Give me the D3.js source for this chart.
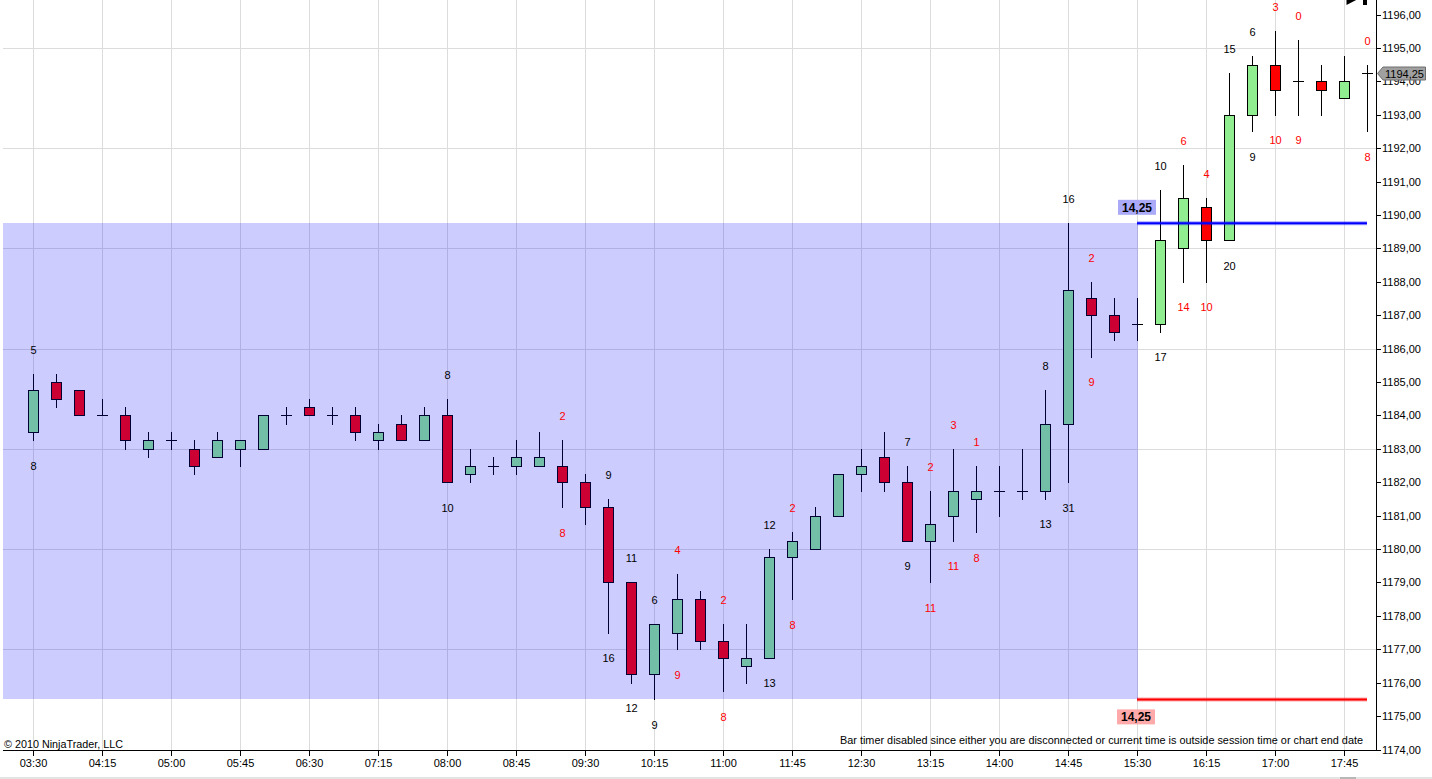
<!DOCTYPE html>
<html>
<head>
<meta charset="utf-8">
<script src="https://cdn.jsdelivr.net/npm/d3@7"></script>
<style>
html,body{margin:0;padding:0;background:#fff;overflow:hidden;}
svg{display:block;font-family:"Liberation Sans",Arial,sans-serif;}
</style>
</head>
<body>
<svg id="chart" width="1432" height="779"></svg>
<script>
// ---------------- DATA ----------------
const barTimes = ["03:30","03:45","04:00","04:15","04:30","04:45","05:00","05:15","05:30","05:45",
  "06:00","06:15","06:30","06:45","07:00","07:15","07:30","07:45","08:00","08:15",
  "08:30","08:45","09:00","09:15","09:30","09:45","10:00","10:15","10:30","10:45",
  "11:00","11:15","11:30","11:45","12:00","12:15","12:30","12:45","13:00","13:15",
  "13:30","13:45","14:00","14:15","14:30","14:45","15:00","15:15","15:30","15:45",
  "16:00","16:15","16:30","16:45","17:00","17:15","17:30","17:45","18:00"];
const opens = [1183.5,1185,1184.75,1184,1184,1183,1183.25,1183,1182.75,1183,
  1183,1184,1184.25,1184,1184,1183.25,1183.75,1183.25,1184,1182.25,
  1182.5,1182.5,1182.5,1182.5,1182,1181.25,1179,1176.25,1177.5,1178.5,
  1177.25,1176.5,1176.75,1179.75,1180,1181,1182.25,1182.75,1182,1180.25,
  1181,1181.5,1181.75,1181.75,1181.75,1183.75,1187.5,1187,1186.75,1186.75,
  1189,1190.25,1189.25,1193,1194.5,1194,1194,1193.5,1194.25];
const highs = [1185.25,1185.25,1184.75,1184.5,1184.25,1183.5,1183.5,1183.25,1183.5,1183.25,
  1184,1184.25,1184.5,1184.25,1184.25,1183.75,1184,1184.25,1184.5,1183,
  1182.75,1183.25,1183.5,1183.25,1182.25,1181.5,1179,1177.75,1179.25,1178.75,
  1177.75,1177.75,1180,1180.5,1181.25,1182.25,1183,1183.5,1182.5,1181.75,
  1183,1182.5,1182.5,1183,1184.75,1189.75,1188,1187.5,1187.5,1190.75,
  1191.5,1190.5,1194.25,1194.75,1195.5,1195.25,1194.5,1194.75,1194.5];
const lows = [1183.25,1184.25,1184,1184,1183,1182.75,1183,1182.25,1182.75,1182.5,
  1183,1183.75,1184,1183.75,1183.25,1183,1183.25,1183.25,1182,1182,
  1182.25,1182.25,1182.5,1181.25,1180.75,1177.5,1176,1175.5,1177,1177,
  1175.75,1176,1176.75,1178.5,1180,1181,1181.75,1181.75,1180.25,1179,
  1180.25,1180.5,1181,1181.5,1181.5,1182,1185.75,1186.25,1186.25,1186.5,
  1188,1188,1189.25,1192.5,1193,1193,1193,1193.5,1192.5];
const closes = [1184.75,1184.5,1184,1184,1183.25,1183.25,1183.25,1182.5,1183.25,1183.25,
  1184,1184,1184,1184,1183.5,1183.5,1183.25,1184,1182,1182.5,
  1182.5,1182.75,1182.75,1182,1181.25,1179,1176.25,1177.75,1178.5,1177.25,
  1176.75,1176.75,1179.75,1180.25,1181,1182.25,1182.5,1182,1180.25,1180.75,
  1181.75,1181.75,1181.75,1181.75,1183.75,1187.75,1187,1186.5,1186.75,1189.25,
  1190.5,1189.25,1193,1194.5,1193.75,1194,1193.75,1194,1194.25];

// numbers printed above / below some bars
const labelBars   = [0,18,23,25,26,27,28,30,32,33,38,39,40,41,44,45,46,49,50,51,52,53,54,55,58];
const topValues   = [5,8,2,9,11,6,4,2,12,2,7,2,3,1,8,16,2,10,6,4,15,6,3,0,0];
const bottomValues= [8,10,8,16,12,9,9,8,13,8,9,11,11,8,13,31,9,17,14,10,20,9,10,9,8];
const labelIsRed  = [false,false,true,false,false,false,true,true,false,true,false,true,true,true,false,false,true,false,true,true,false,false,true,true,true];

const timeTicks = ["03:30","04:15","05:00","05:45","06:30","07:15","08:00","08:45","09:30","10:15",
  "11:00","11:45","12:30","13:15","14:00","14:45","15:30","16:15","17:00","17:45"];
const priceTicks = [1174,1175,1176,1177,1178,1179,1180,1181,1182,1183,1184,1185,1186,1187,1188,
  1189,1190,1191,1192,1193,1194,1195,1196];
const gridPrices = [1177,1180,1183,1186,1189,1192,1195];

const rangeStartBar = "03:30", rangeEndBar = "15:30", rangeLineEnd = "18:00";
const rangeHigh = 1189.75, rangeLow = 1175.5, rangeText = "14,25";
const lastPrice = 1194.25, lastPriceText = "1194,25";

// ---------------- DRAW ----------------
const svg = d3.select("#chart");
const plotLeft = 3, plotRight = 1376, axisY = 750;
const x = d3.scalePoint().domain(barTimes).range([33.3, 1367.3]);
const y = d3.scaleLinear().domain([1174, 1196]).range([749.5, 14.5]);
const X = t => Math.round(x(t));
const Y = v => Math.round(y(v));
const fmt = v => d3.format(".2f")(v).replace(".", ",");

svg.append("rect").attr("width",1432).attr("height",779).attr("fill","#fff");

// grid
const grid = svg.append("g").attr("stroke","#dcdcdc").attr("stroke-width",1);
grid.selectAll("line.v").data(timeTicks).join("line")
  .attr("x1",d=>X(d)+0.5).attr("x2",d=>X(d)+0.5).attr("y1",0).attr("y2",axisY);
grid.selectAll("line.h").data(gridPrices).join("line")
  .attr("x1",plotLeft).attr("x2",plotRight).attr("y1",d=>Y(d)+0.5).attr("y2",d=>Y(d)+0.5);

// candles
const bars = barTimes.map((t,i)=>({t, o:opens[i], h:highs[i], l:lows[i], c:closes[i]}));
const cg = svg.append("g");
cg.selectAll("line.wick").data(bars).join("line")
  .attr("x1",d=>X(d.t)+0.5).attr("x2",d=>X(d.t)+0.5)
  .attr("y1",d=>Y(d.h)).attr("y2",d=>Y(d.l)+1)
  .attr("stroke","#000").attr("stroke-width",1);
cg.selectAll("rect.body").data(bars.filter(d=>d.o!==d.c)).join("rect")
  .attr("x",d=>X(d.t)-4.5).attr("width",10)
  .attr("y",d=>Y(Math.max(d.o,d.c))+0.5)
  .attr("height",d=>Y(Math.min(d.o,d.c))-Y(Math.max(d.o,d.c)))
  .attr("fill",d=>d.c>d.o?"#90ee90":"#ff0000")
  .attr("stroke","#000").attr("stroke-width",1);
cg.selectAll("line.doji").data(bars.filter(d=>d.o===d.c)).join("line")
  .attr("x1",d=>X(d.t)-5).attr("x2",d=>X(d.t)+6)
  .attr("y1",d=>Y(d.o)+0.5).attr("y2",d=>Y(d.o)+0.5)
  .attr("stroke","#000").attr("stroke-width",1);

// range lines
const lx1 = X(rangeEndBar), lx2 = X(rangeLineEnd);
[[rangeHigh,"#0000ff"],[rangeLow,"#ff0000"]].forEach(([v,col])=>{
  svg.append("line").attr("x1",lx1).attr("x2",lx2).attr("y1",y(v)).attr("y2",y(v))
    .attr("stroke",col).attr("stroke-opacity",0.35).attr("stroke-width",4);
  svg.append("line").attr("x1",lx1).attr("x2",lx2).attr("y1",y(v)).attr("y2",y(v))
    .attr("stroke",col).attr("stroke-width",2);
});

// shaded range overlay
svg.append("rect")
  .attr("x",plotLeft).attr("width",X(rangeEndBar)+1-plotLeft)
  .attr("y",Y(rangeHigh)).attr("height",Y(rangeLow)-Y(rangeHigh))
  .attr("fill","#0000ff").attr("fill-opacity",0.2);

// bar labels
const lg = svg.append("g").attr("font-size",11).attr("text-anchor","middle");
labelBars.forEach((bi,k)=>{
  const col = labelIsRed[k] ? "#ff0000" : "#000";
  const cx = X(barTimes[bi]) + 0.5;
  lg.append("text").attr("x",cx).attr("y",y(highs[bi])-20).attr("fill",col).text(topValues[k]);
  lg.append("text").attr("x",cx).attr("y",y(lows[bi])+29.5).attr("fill",col).text(bottomValues[k]);
});

// range value boxes
const bx = X(rangeEndBar);
svg.append("rect").attr("x",bx-19).attr("y",y(rangeHigh)-23.5).attr("width",38).attr("height",15).attr("fill","#aaaaf8");
svg.append("text").attr("x",bx).attr("y",y(rangeHigh)-11.5).attr("text-anchor","middle")
  .attr("font-size",12).attr("font-weight","bold").attr("fill","#000").text(rangeText);
svg.append("rect").attr("x",bx-20).attr("y",y(rangeLow)+10).attr("width",38).attr("height",15).attr("fill","#ffaaaa");
svg.append("text").attr("x",bx-1).attr("y",y(rangeLow)+22).attr("text-anchor","middle")
  .attr("font-size",12).attr("font-weight","bold").attr("fill","#000").text(rangeText);

// axes
const ag = svg.append("g").attr("stroke","#000").attr("stroke-width",1);
ag.append("line").attr("x1",plotLeft).attr("x2",plotRight+0.5).attr("y1",axisY+0.5).attr("y2",axisY+0.5);
ag.append("line").attr("x1",plotRight+0.5).attr("x2",plotRight+0.5).attr("y1",0).attr("y2",axisY+1);
ag.selectAll("line.xt").data(timeTicks).join("line")
  .attr("x1",d=>X(d)+0.5).attr("x2",d=>X(d)+0.5).attr("y1",axisY).attr("y2",axisY+6);
ag.selectAll("line.yt").data(priceTicks).join("line")
  .attr("x1",plotRight).attr("x2",plotRight+5).attr("y1",d=>Y(d)+0.5).attr("y2",d=>Y(d)+0.5);

svg.append("g").attr("font-size",11).attr("text-anchor","middle").attr("fill","#000")
  .selectAll("text").data(timeTicks).join("text")
  .attr("x",d=>X(d)+0.5).attr("y",767).text(d=>d);
svg.append("g").attr("font-size",11).attr("fill","#000")
  .selectAll("text").data(priceTicks).join("text")
  .attr("x",1382).attr("y",d=>y(d)+4).text(d=>fmt(d));

// last price marker
const py = Y(lastPrice)+0.5;
svg.append("path")
  .attr("d",`M${plotRight+1.5},${py} L${plotRight+7},${py-6.5} L1425.5,${py-6.5} L1425.5,${py+6.5} L${plotRight+7},${py+6.5} Z`)
  .attr("fill","#a0a0a0").attr("stroke","#6e6e6e").attr("stroke-width",1);
svg.append("text").attr("x",1385).attr("y",py+4).attr("font-size",11).attr("fill","#000").text(lastPriceText);

// footer texts
svg.append("text").attr("x",4).attr("y",748).attr("font-size",11).attr("fill","#000")
  .attr("textLength",119).attr("lengthAdjust","spacingAndGlyphs").text("© 2010 NinjaTrader, LLC");
svg.append("text").attr("x",1363).attr("y",744).attr("font-size",11).attr("text-anchor","end").attr("fill","#000")
  .attr("textLength",523).attr("lengthAdjust","spacingAndGlyphs")
  .text("Bar timer disabled since either you are disconnected or current time is outside session time or chart end date");

// top-right scroll icon
svg.append("path").attr("d","M1346.5,-11 L1346.5,5 L1362,-3 Z").attr("fill","#000");
svg.append("rect").attr("x",1363).attr("y",-5).attr("width",4).attr("height",10).attr("fill","#000");

// bottom window border
svg.append("rect").attr("x",0).attr("y",777).attr("width",1432).attr("height",2).attr("fill","#e4e4e4");
svg.append("rect").attr("x",1340).attr("y",777).attr("width",16).attr("height",2).attr("fill","#b8b8b8");
</script>
</body>
</html>
